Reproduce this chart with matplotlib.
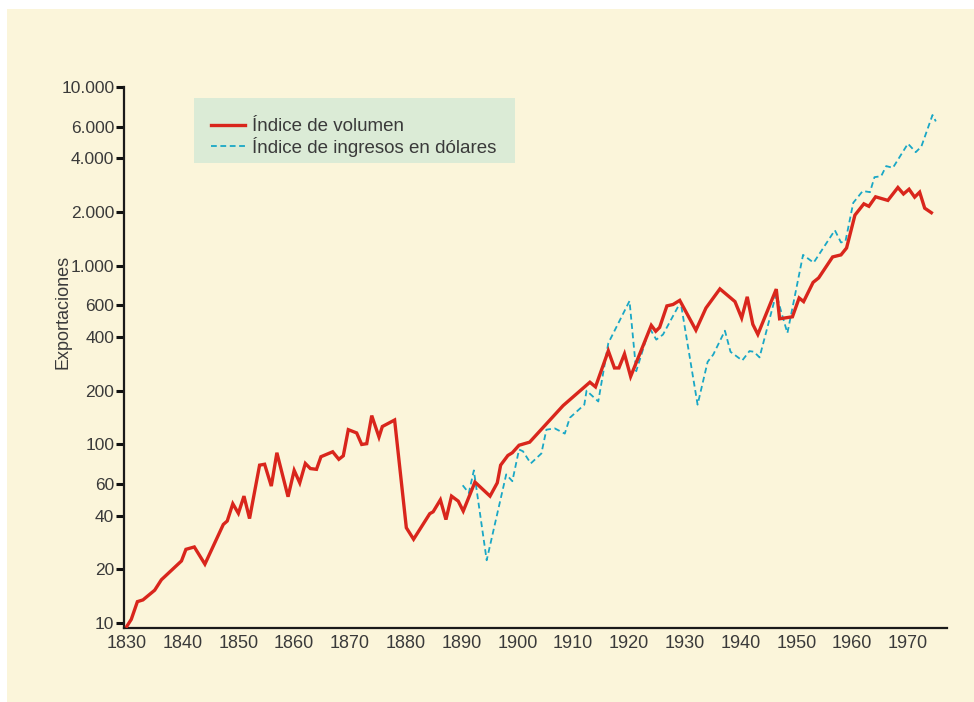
import matplotlib
matplotlib.use("Agg")
import matplotlib.pyplot as plt
from matplotlib.patches import Rectangle
from matplotlib.ticker import FixedLocator, FixedFormatter, NullLocator

plt.rcParams['font.family'] = ['Liberation Sans', 'DejaVu Sans']

# ---- data ----
vol_years = [1830.0, 1830.8, 1831.9, 1832.9, 1835.0, 1836.2, 1839.8, 1840.6, 1842.1, 1844.0,
             1847.3, 1848.0, 1849.0, 1850.0, 1851.0, 1852.0, 1853.8, 1854.7, 1855.9, 1856.9,
             1858.9, 1860.0, 1861.0, 1862.0, 1862.9, 1864.0, 1864.8, 1866.9, 1868.0, 1868.8,
             1869.7, 1871.2, 1872.1, 1873.0, 1873.9, 1875.2, 1875.8, 1878.0, 1880.1, 1881.4,
             1884.3, 1884.9, 1886.2, 1887.2, 1888.2, 1889.4, 1890.3, 1892.4, 1895.1, 1896.4,
             1897.0, 1898.3, 1899.1, 1900.3, 1902.2, 1908.2, 1913.0, 1914.0, 1916.3, 1917.4,
             1918.2, 1919.2, 1920.3, 1924.0, 1924.8, 1925.5, 1926.8, 1927.9, 1929.1, 1932.0,
             1933.8, 1936.3, 1939.0, 1940.2, 1941.2, 1942.2, 1943.1, 1946.4, 1947.0, 1949.3,
             1950.5, 1951.3, 1953.0, 1954.0, 1956.5, 1958.0, 1959.0, 1960.5, 1962.1, 1963.0,
             1964.2, 1966.4, 1968.2, 1969.2, 1970.2, 1971.2, 1972.1, 1973.0, 1974.2]
vol_values = [9.6, 10.5, 13.2, 13.5, 15.3, 17.5, 22.3, 25.9, 26.7, 21.4,
              35.7, 37.3, 46.6, 41.2, 51.4, 38.5, 76.6, 77.5, 58.5, 89.9,
              51, 71.6, 61, 78.3, 73.3, 72.6, 85.4, 91, 82.6, 86.4,
              121, 116, 100, 101, 145, 110, 126, 137, 34.2, 29.5,
              41, 42, 49, 38, 51.4, 48.2, 42.4, 61.6, 51.4, 61,
              76.6, 86.8, 89.9, 99, 103, 165, 223, 210, 334, 268,
              268, 321, 240, 464, 430, 452, 596, 607, 640, 436,
              580, 742, 630, 510, 670, 470, 413, 740, 505, 518,
              660, 630, 807, 855, 1120, 1150, 1257, 1920, 2220, 2150,
              2430, 2320, 2740, 2520, 2680, 2420, 2580, 2100, 1980]

usd_years = [1890.2, 1891.3, 1892.2, 1894.5, 1898.0, 1899.1, 1900.3, 1901.0, 1902.4, 1904.3,
             1905.2, 1906.7, 1908.5, 1909.4, 1912.0, 1912.4, 1914.5, 1916.3, 1920.1, 1921.3,
             1923.7, 1924.9, 1926.1, 1928.8, 1929.4, 1932.3, 1934.1, 1935.1, 1937.2, 1938.2,
             1940.3, 1941.6, 1942.4, 1943.4, 1946.4, 1947.3, 1948.4, 1951.2, 1953.1, 1956.9,
             1958.0, 1958.8, 1960.2, 1961.9, 1963.2, 1964.0, 1965.2, 1966.1, 1967.3, 1970.0,
             1971.4, 1972.4, 1974.4, 1975.0]
usd_values = [59.1, 53.5, 71.6, 22.5, 68, 62.3, 93.7, 91.6, 78.3, 89,
              121, 123, 115, 141, 167, 200, 174, 369, 635, 257,
              448, 386, 412, 590, 590, 167, 290, 318, 433, 330,
              295, 333, 330, 307, 700, 550, 420, 1150, 1040, 1580,
              1350, 1370, 2250, 2620, 2580, 3130, 3170, 3610, 3530, 4820,
              4320, 4640, 6970, 6420]

ytick_values = [10, 20, 40, 60, 100, 200, 400, 600, 1000, 2000, 4000, 6000, 10000]
ytick_labels = ['10', '20', '40', '60', '100', '200', '400', '600',
                '1.000', '2.000', '4.000', '6.000', '10.000']
xtick_values = [1830, 1840, 1850, 1860, 1870, 1880, 1890, 1900, 1910, 1920,
                1930, 1940, 1950, 1960, 1970]

label_vol = 'Índice de volumen'
label_usd = 'Índice de ingresos en dólares'
ylabel = 'Exportaciones'

# ---- figure ----
W, H = 974, 702
fig = plt.figure(figsize=(W / 100, H / 100), dpi=100, facecolor='white')
cream = '#fbf5da'
bg = Rectangle((7 / W, 0), 1 - 7 / W, 1 - 9 / H, transform=fig.transFigure,
               facecolor=cream, edgecolor='none', zorder=-10)
fig.add_artist(bg)

ax = fig.add_axes([124 / W, (H - 628) / H, 823 / W, 541 / H])
ax.set_zorder(5)
ax.set_facecolor('none')

red = '#d9261c'
blue = '#19a7c6'
ax.plot(vol_years, vol_values, color=red, lw=2.4, solid_joinstyle='miter', zorder=3)
ax.plot(usd_years, usd_values, color=blue, lw=1.3, dashes=(3.2, 2.0), zorder=2)

ax.set_yscale('log')
ax.set_ylim(9.4, 10000)
ax.set_xlim(1829.5, 1977)

ax.yaxis.set_major_locator(FixedLocator(ytick_values))
ax.yaxis.set_major_formatter(FixedFormatter(ytick_labels))
ax.yaxis.set_minor_locator(NullLocator())
ax.set_xticks(xtick_values)
ax.xaxis.set_minor_locator(NullLocator())

for s in ['top', 'right']:
    ax.spines[s].set_visible(False)
for s in ['left', 'bottom']:
    ax.spines[s].set_linewidth(1.6)
    ax.spines[s].set_color('#1a1a1a')

ax.tick_params(axis='y', direction='out', length=6, width=2.2, color='#111111',
               labelsize=12.5, labelcolor='#3a3a3a', pad=1)
ax.tick_params(axis='x', length=0, labelsize=13, labelcolor='#3a3a3a', pad=5)

ax.set_ylabel(ylabel, fontsize=13, color='#3a3a3a', labelpad=4)
ax.yaxis.set_label_coords(-0.064, 0.585)

# legend box
ax.add_patch(Rectangle(((194 - 124) / 823, (628 - 163) / 541), 321 / 823, 65 / 541,
                       transform=ax.transAxes, facecolor='#d6ead6', edgecolor='none',
                       zorder=1, alpha=0.85))
leg = ax.legend([label_vol, label_usd], loc='upper left',
                bbox_to_anchor=((211 - 124) / 823, (628 - 118) / 541),
                frameon=False, fontsize=13.5, handlelength=1.8, handletextpad=0.38,
                labelspacing=0.1, borderpad=0, borderaxespad=0)
for t in leg.get_texts():
    t.set_color('#3a3a3a')

fig.savefig('out.png', dpi=100, facecolor='white')
